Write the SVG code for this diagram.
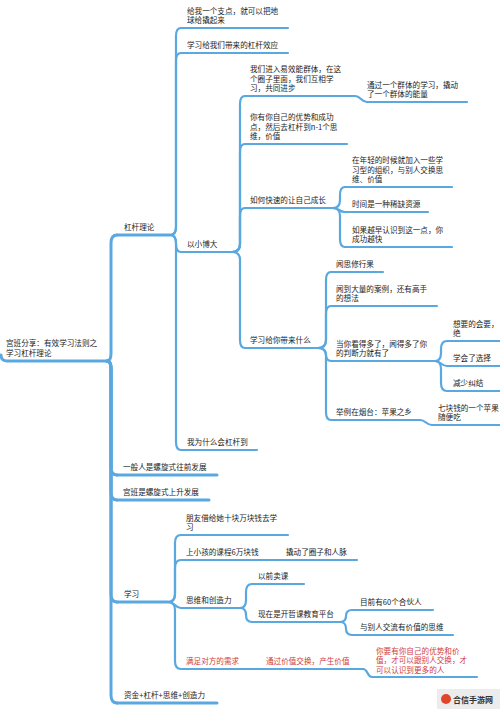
<svg xmlns="http://www.w3.org/2000/svg" width="500" height="709" viewBox="0 0 500 709">
<style>
.t{font-family:"Noto Sans CJK SC","Noto Sans",sans-serif;font-size:7.6px;fill:#1c1c1c}
.r{fill:#d23a3a}
.u{stroke:#5aa8e0;stroke-width:2.2;fill:none;stroke-linecap:round}
.u1{stroke:#5aa8e0;stroke-width:3;fill:none;stroke-linecap:round}
.c{stroke:#5aa8e0;stroke-width:2.2;fill:none;stroke-linecap:round}
.c1{stroke:#5aa8e0;stroke-width:3;fill:none;stroke-linecap:round}
</style>
<rect width="500" height="709" fill="#ffffff"/>
<g id="connectors">
<path class="c1" d="M107,361 Q111,361 111,353 L111,243 Q111,235 117,235"/>
<path class="c1" d="M107,361 Q111,361 111,369 L111,467 Q111,475 117,475"/>
<path class="c1" d="M107,361 Q111,361 111,369 L111,492 Q111,500 117,500"/>
<path class="c1" d="M107,361 Q111,361 111,369 L111,594 Q111,602 117,602"/>
<path class="c1" d="M107,361 Q111,361 111,369 L111,695 Q111,703 117,703"/>
<path class="c" d="M170,235 Q176,235 176,227 L176,36 Q176,28 181,28"/>
<path class="c" d="M170,235 Q176,235 176,227 L176,61 Q176,53 181,53"/>
<path class="c" d="M170,235 Q176,235 176,243 L176,244 Q176,252 181,252"/>
<path class="c" d="M170,235 Q176,235 176,243 L176,442 Q176,450 181,450"/>
<path class="c" d="M232,252 Q240,252 240,244 L240,104 Q240,96 245,96"/>
<path class="c" d="M232,252 Q240,252 240,244 L240,152 Q240,144 245,144"/>
<path class="c" d="M232,252 Q240,252 240,244 L240,216 Q240,208 245,208"/>
<path class="c" d="M232,252 Q240,252 240,260 L240,340 Q240,348 245,348"/>
<path class="c" d="M355,96 C361,96 361,102 367,102"/>
<path class="c" d="M333,208 Q340,208 340,200 L340,195 Q340,187 345,187"/>
<path class="c" d="M333,208 C339,208 339,212 345,212"/>
<path class="c" d="M333,208 Q340,208 340,216 L340,239 Q340,247 345,247"/>
<path class="c" d="M318,348 Q326,348 326,340 L326,280 Q326,272 331,272"/>
<path class="c" d="M318,348 Q326,348 326,340 L326,314 Q326,306 331,306"/>
<path class="c" d="M318,348 Q326,348 326,354.5 Q326,361 331,361"/>
<path class="c" d="M318,348 Q326,348 326,356 L326,412 Q326,420 331,420"/>
<path class="c" d="M435,361 Q441,361 441,353 L441,349 Q441,341 447,341"/>
<path class="c" d="M435,361 C441,361 441,366 447,366"/>
<path class="c" d="M435,361 Q441,361 441,369 L441,383 Q441,391 447,391"/>
<path class="c" d="M420,420 C426,420 426,425 432,425"/>
<path class="c" d="M168,602 Q175,602 175,594 L175,543 Q175,535 181,535"/>
<path class="c" d="M168,602 Q175,602 175,594 L175,568 Q175,560 181,560"/>
<path class="c" d="M168,602 C175,602 175,608 181,608"/>
<path class="c" d="M168,602 Q175,602 175,610 L175,661 Q175,669 181,669"/>
<path class="c" d="M240,608 Q246,608 246,600 L246,592 Q246,584 252,584"/>
<path class="c" d="M240,608 Q246,608 246,615 Q246,622 252,622"/>
<path class="c" d="M340,622 Q346,622 346,616 Q346,610 352,610"/>
<path class="c" d="M340,622 Q346,622 346,628.5 Q346,635 352,635"/>
<path class="c" d="M363,669 C368,669 367,677 372,677"/>
</g>
<g id="root">
<path class="u1" d="M1,355 Q1,361 7,361 L107,361"/>
<text class="t" x="6" y="346">宫班分享：有效学习法则之</text>
<text class="t" x="6" y="356">学习杠杆理论</text>
</g>
<g id="n-ganggan">
<line class="u1" x1="117" y1="235" x2="170" y2="235"/>
<text class="t" x="124" y="230">杠杆理论</text>
</g>
<g id="n-zhidian">
<line class="u" x1="181" y1="28" x2="288" y2="28"/>
<text class="t" x="187" y="13.5">给我一个支点，就可以把地</text>
<text class="t" x="187" y="23">球给撬起来</text>
</g>
<g id="n-xiaoying">
<line class="u" x1="181" y1="53" x2="288" y2="53"/>
<text class="t" x="187" y="48">学习给我们带来的杠杆效应</text>
</g>
<g id="n-yixiaobo">
<line class="u" x1="181" y1="252" x2="232" y2="252"/>
<text class="t" x="187" y="247">以小博大</text>
</g>
<g id="n-qunti">
<line class="u" x1="245" y1="96" x2="355" y2="96"/>
<text class="t" x="250" y="72">我们进入易效能群体，在这</text>
<text class="t" x="250" y="81.5">个圈子里面，我们互相学</text>
<text class="t" x="250" y="91">习，共同进步</text>
</g>
<g id="n-qiaodong">
<line class="u" x1="367" y1="102" x2="467" y2="102"/>
<text class="t" x="367" y="87.5">通过一个群体的学习，撬动</text>
<text class="t" x="367" y="97">了一个群体的能量</text>
</g>
<g id="n-youshi">
<line class="u" x1="245" y1="144" x2="347" y2="144"/>
<text class="t" x="250" y="120">你有你自己的优势和成功</text>
<text class="t" x="250" y="129.5">点，然后去杠杆到n-1个思</text>
<text class="t" x="250" y="139">维，价值</text>
</g>
<g id="n-chengzhang">
<line class="u" x1="245" y1="208" x2="333" y2="208"/>
<text class="t" x="250" y="203">如何快速的让自己成长</text>
</g>
<g id="n-nianqing">
<line class="u" x1="345" y1="187" x2="452" y2="187"/>
<text class="t" x="352" y="163">在年轻的时候就加入一些学</text>
<text class="t" x="352" y="172.5">习型的组织，与别人交换思</text>
<text class="t" x="352" y="182">维、价值</text>
</g>
<g id="n-shijian">
<line class="u" x1="345" y1="212" x2="428" y2="212"/>
<text class="t" x="352" y="207">时间是一种稀缺资源</text>
</g>
<g id="n-yuezao">
<line class="u" x1="345" y1="247" x2="452" y2="247"/>
<text class="t" x="352" y="232.5">如果越早认识到这一点，你</text>
<text class="t" x="352" y="242">成功越快</text>
</g>
<g id="n-dailai">
<line class="u" x1="245" y1="348" x2="318" y2="348"/>
<text class="t" x="250" y="343">学习给你带来什么</text>
</g>
<g id="n-wensi">
<line class="u" x1="331" y1="272" x2="383" y2="272"/>
<text class="t" x="336" y="267">闻思修行果</text>
</g>
<g id="n-anli">
<line class="u" x1="331" y1="306" x2="437" y2="306"/>
<text class="t" x="336" y="291.5">闻到大量的案例，还有高手</text>
<text class="t" x="336" y="301">的想法</text>
</g>
<g id="n-panduan">
<line class="u" x1="331" y1="361" x2="435" y2="361"/>
<text class="t" x="336" y="346.5">当你看得多了，闻得多了你</text>
<text class="t" x="336" y="356">的判断力就有了</text>
</g>
<g id="n-xiangyao">
<line class="u" x1="447" y1="341" x2="500" y2="341"/>
<text class="t" x="453" y="326.5">想要的会要，</text>
<text class="t" x="453" y="336">绝</text>
</g>
<g id="n-xuanze">
<line class="u" x1="447" y1="366" x2="500" y2="366"/>
<text class="t" x="453" y="361">学会了选择</text>
</g>
<g id="n-jiujie">
<line class="u" x1="447" y1="391" x2="500" y2="391"/>
<text class="t" x="453" y="386">减少纠结</text>
</g>
<g id="n-yantai">
<line class="u" x1="331" y1="420" x2="420" y2="420"/>
<text class="t" x="336" y="415">举例在烟台：苹果之乡</text>
</g>
<g id="n-pingguo">
<line class="u" x1="432" y1="425" x2="500" y2="425"/>
<text class="t" x="438" y="410.5">七块钱的一个苹果</text>
<text class="t" x="438" y="420">随便吃</text>
</g>
<g id="n-weishenme">
<line class="u" x1="181" y1="450" x2="257" y2="450"/>
<text class="t" x="187" y="445">我为什么会杠杆到</text>
</g>
<g id="n-yiban">
<line class="u1" x1="117" y1="475" x2="217" y2="475"/>
<text class="t" x="123" y="470">一般人是螺旋式往前发展</text>
</g>
<g id="n-gongban">
<line class="u1" x1="117" y1="500" x2="209" y2="500"/>
<text class="t" x="123" y="495">宫班是螺旋式上升发展</text>
</g>
<g id="n-xuexi">
<line class="u1" x1="117" y1="602" x2="168" y2="602"/>
<text class="t" x="124" y="597">学习</text>
</g>
<g id="n-pengyou">
<line class="u" x1="181" y1="535" x2="288" y2="535"/>
<text class="t" x="186" y="520.5">朋友借给她十块万块钱去学</text>
<text class="t" x="186" y="530">习</text>
</g>
<g id="n-xiaohai">
<line class="u" x1="181" y1="560" x2="280" y2="560"/>
<text class="t" x="186" y="555">上小孩的课程6万块钱</text>
</g>
<g id="n-renmai">
<line class="u" x1="280" y1="560" x2="357" y2="560"/>
<text class="t" x="286" y="555">撬动了圈子和人脉</text>
</g>
<g id="n-siwei">
<line class="u" x1="181" y1="608" x2="240" y2="608"/>
<text class="t" x="186" y="603">思维和创造力</text>
</g>
<g id="n-maike">
<line class="u" x1="252" y1="584" x2="304" y2="584"/>
<text class="t" x="258" y="579">以前卖课</text>
</g>
<g id="n-pingtai">
<line class="u" x1="252" y1="622" x2="340" y2="622"/>
<text class="t" x="258" y="617">现在是开哲课教育平台</text>
</g>
<g id="n-hehuoren">
<line class="u" x1="352" y1="610" x2="433" y2="610"/>
<text class="t" x="360" y="605">目前有60个合伙人</text>
</g>
<g id="n-jiaoliu">
<line class="u" x1="352" y1="635" x2="453" y2="635"/>
<text class="t" x="360" y="630">与别人交流有价值的思维</text>
</g>
<g id="n-xuqiu">
<line class="u" x1="181" y1="669" x2="260" y2="669"/>
<text class="t r" x="186" y="664">满足对方的需求</text>
</g>
<g id="n-jiazhi">
<line class="u" x1="260" y1="669" x2="363" y2="669"/>
<text class="t r" x="266" y="664">通过价值交换，产生价值</text>
</g>
<g id="n-gengduo">
<line class="u" x1="372" y1="677" x2="477" y2="677"/>
<text class="t r" x="376" y="653.5">你要有你自己的优势和价</text>
<text class="t r" x="376" y="663">值，才可以跟别人交换，才</text>
<text class="t r" x="376" y="672.5">可以认识到更多的人</text>
</g>
<g id="n-zijin">
<line class="u1" x1="117" y1="703" x2="217" y2="703"/>
<text class="t" x="124" y="698">资金+杠杆+思维+创造力</text>
</g>
<g id="watermark">
<rect x="437" y="689" width="63" height="20" fill="#ececec"/>
<circle cx="446" cy="699" r="5" fill="#e0452b"/>
<text x="453" y="702.5" style="font-family:'Noto Sans CJK SC',sans-serif;font-size:8px;font-weight:bold;fill:#333">合信手游网</text>
</g>
</svg>
